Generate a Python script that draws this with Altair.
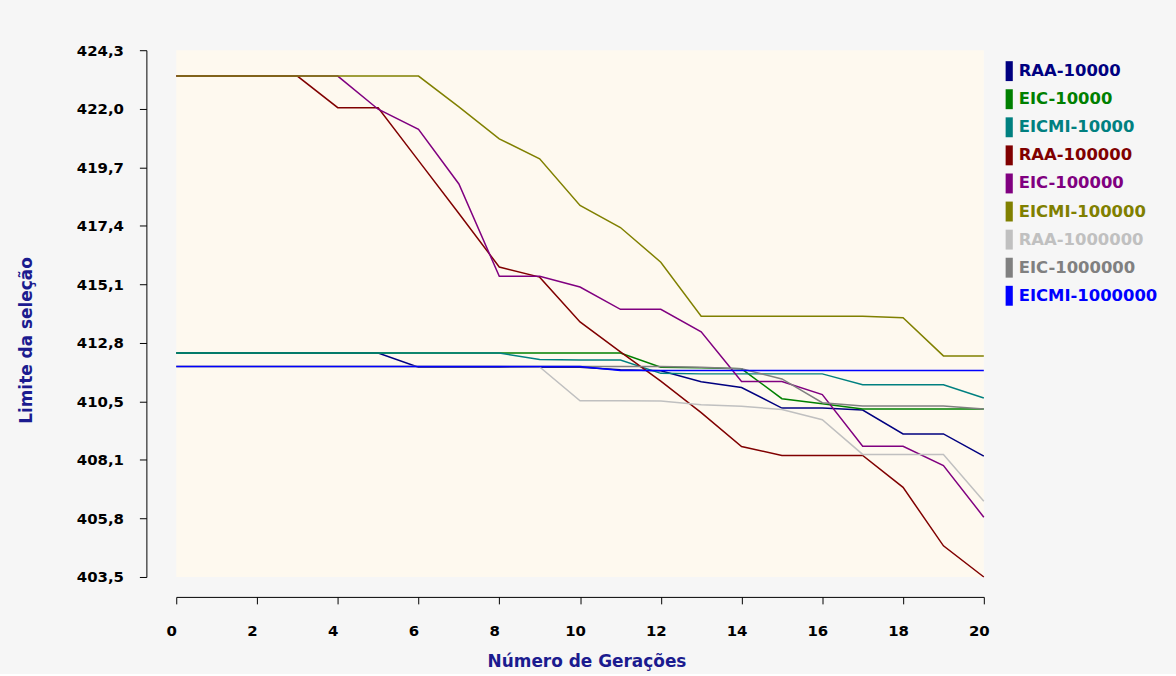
import altair as alt
import pandas as pd

# Generation index (x axis)
generations = [0, 1, 2, 3, 4, 5, 6, 7, 8, 9, 10, 11, 12, 13, 14, 15, 16, 17, 18, 19, 20]

# Selection limit per generation for each configuration
raa_10000 = [412.34, 412.34, 412.34, 412.34, 412.34, 412.34, 411.78, 411.78, 411.78, 411.78,
             411.78, 411.68, 411.64, 411.21, 410.98, 410.17, 410.17, 410.09, 409.15, 409.15, 408.27]
eic_10000 = [412.34, 412.34, 412.34, 412.34, 412.34, 412.34, 412.34, 412.34, 412.34, 412.34,
             412.34, 412.34, 411.78, 411.76, 411.72, 410.54, 410.34, 410.13, 410.13, 410.13, 410.13]
eicmi_10000 = [412.34, 412.34, 412.34, 412.34, 412.34, 412.34, 412.34, 412.34, 412.34, 412.09,
               412.07, 412.07, 411.54, 411.52, 411.52, 411.52, 411.52, 411.09, 411.09, 411.09, 410.57]
raa_100000 = [423.28, 423.28, 423.28, 423.28, 422.03, 422.03, 419.94, 417.85, 415.74, 415.34,
              413.57, 412.39, 411.23, 409.99, 408.65, 408.30, 408.30, 408.30, 407.04, 404.73, 403.50]
eic_100000 = [423.28, 423.28, 423.28, 423.28, 423.28, 421.97, 421.18, 419.02, 415.37, 415.37,
              414.95, 414.07, 414.07, 413.18, 411.22, 411.22, 410.70, 408.66, 408.66, 407.90, 405.86]
eicmi_100000 = [423.28, 423.28, 423.28, 423.28, 423.28, 423.28, 423.28, 422.06, 420.80, 420.01,
                418.17, 417.30, 415.93, 413.80, 413.80, 413.80, 413.80, 413.80, 413.74, 412.23, 412.23]
raa_1000000 = [411.81, 411.81, 411.81, 411.81, 411.81, 411.81, 411.81, 411.81, 411.81, 411.79,
               410.46, 410.46, 410.45, 410.30, 410.24, 410.11, 409.71, 408.34, 408.34, 408.34, 406.49]
eic_1000000 = [411.81, 411.81, 411.81, 411.81, 411.81, 411.81, 411.81, 411.81, 411.81, 411.81,
               411.81, 411.81, 411.81, 411.78, 411.72, 411.32, 410.38, 410.25, 410.25, 410.25, 410.13]
eicmi_1000000 = [411.81, 411.81, 411.81, 411.81, 411.81, 411.81, 411.81, 411.81, 411.81, 411.81,
                 411.81, 411.65, 411.65, 411.65, 411.65, 411.65, 411.65, 411.65, 411.65, 411.65, 411.65]

series_names = ["RAA-10000", "EIC-10000", "EICMI-10000",
                "RAA-100000", "EIC-100000", "EICMI-100000",
                "RAA-1000000", "EIC-1000000", "EICMI-1000000"]
series_values = [raa_10000, eic_10000, eicmi_10000,
                 raa_100000, eic_100000, eicmi_100000,
                 raa_1000000, eic_1000000, eicmi_1000000]
series_colors = ["#000080", "#008000", "#008080",
                 "#800000", "#800080", "#808000",
                 "#c0c0c0", "#808080", "#0000ff"]

x_ticks = [0, 2, 4, 6, 8, 10, 12, 14, 16, 18, 20]
y_ticks = [403.5, 405.8111, 408.1222, 410.4333, 412.7444, 415.0556, 417.3667, 419.6778, 421.9889, 424.3]
y_tick_labels = ["403,5", "405,8", "408,1", "410,5", "412,8", "415,1", "417,4", "419,7", "422,0", "424,3"]

rows = []
for order, (name, vals) in enumerate(zip(series_names, series_values)):
    for g, v in zip(generations, vals):
        rows.append({"series": name, "gen": g, "value": v, "draw": order})
df = pd.DataFrame(rows)

label_array = "[" + ",".join("'" + s + "'" for s in y_tick_labels) + "]"
y_label_expr = label_array + "[round((datum.value - 403.5) / 2.31111)]"

FONT = "DejaVu Sans"
TITLE_COLOR = "#1b1b8f"

color_scale = alt.Scale(domain=series_names, range=series_colors)

lines = alt.Chart(df).mark_line(strokeWidth=1.5, clip=False).encode(
    x=alt.X("gen:Q",
            scale=alt.Scale(domain=[0, 20], nice=False, zero=False),
            axis=alt.Axis(values=x_ticks, format="d", offset=20, tickSize=7,
                          labelPadding=20, labelOffset=-5, labelFlush=False,
                          titlePadding=15, titleX=412, grid=False,
                          labelFont=FONT, labelFontWeight="bold", labelFontSize=15,
                          labelColor="#000000", domainColor="#000000", tickColor="#000000",
                          titleFont=FONT, titleFontWeight="bold", titleFontSize=17,
                          titleColor=TITLE_COLOR),
            title="Número de Gerações"),
    y=alt.Y("value:Q",
            scale=alt.Scale(domain=[403.5, 424.3], nice=False, zero=False),
            axis=alt.Axis(values=y_ticks, labelExpr=y_label_expr, offset=30, tickSize=7,
                          labelPadding=16, titlePadding=41, titleY=291, grid=False,
                          labelFont=FONT, labelFontWeight="bold", labelFontSize=15,
                          labelColor="#000000", domainColor="#000000", tickColor="#000000",
                          titleFont=FONT, titleFontWeight="bold", titleFontSize=17,
                          titleColor=TITLE_COLOR),
            title="Limite da seleção"),
    color=alt.Color("series:N", scale=color_scale, legend=None),
    detail="draw:O",
)

main = lines.properties(
    width=811, height=529,
    view=alt.ViewBackground(fill="#fef9ef", stroke=None),
)

# Hand-built legend: coloured swatch plus label in the series colour
legend_df = pd.DataFrame({"series": series_names})
legend_y = alt.Y("series:N",
                 scale=alt.Scale(type="point", domain=series_names, range=[21, 246.6], padding=0),
                 axis=None)
swatch = alt.Chart(legend_df).mark_point(
    shape="M-0.36,-1H0.36V1H-0.36Z", filled=True, opacity=1, size=400, strokeWidth=0
).encode(x=alt.value(4.5), y=legend_y,
         color=alt.Color("series:N", scale=color_scale, legend=None))
labels = alt.Chart(legend_df).mark_text(
    align="left", baseline="middle", font=FONT, fontWeight="bold", fontSize=16.5
).encode(x=alt.value(14), y=legend_y, text="series:N",
         color=alt.Color("series:N", scale=color_scale, legend=None))
legend = alt.layer(swatch, labels).properties(
    width=160, height=529, view=alt.ViewBackground(fill=None, stroke=None)
)

chart = alt.hconcat(main, legend, spacing=15).properties(
    background="#f6f6f6",
    padding={"left": 17, "top": 42, "right": 12, "bottom": 3},
).configure_view(stroke=None)

chart.save("out.html", embed_options={"renderer": "svg", "actions": False})
